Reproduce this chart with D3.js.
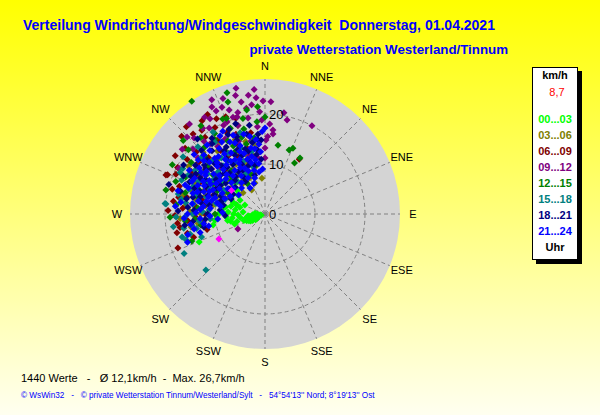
<!DOCTYPE html>
<html lang="de">
<head>
    <meta charset="UTF-8">
    <title>Windrichtung / Windgeschwindigkeit</title>
    <script src="https://d3js.org/d3.v7.min.js"></script>
    <style>
        body {
            margin: 0;
            padding: 0;
        }
        svg text {
            font-family: "Liberation Sans", Arial, sans-serif;
        }
        .spoke, .ring {
            stroke: #808080;
            stroke-dasharray: 4 3;
            fill: none;
        }
    </style>
</head>
<body>
    <svg width="600" height="415"></svg>
    <script>
        const compassLabels = ["N", "NNE", "NE", "ENE", "E", "ESE", "SE", "SSE",
            "S", "SSW", "SW", "WSW", "W", "WNW", "NW", "NNW"];
        const ringValues = [0, 10, 20];
        const timeSlots = ["00...03", "03...06", "06...09", "09...12", "12...15", "15...18", "18...21", "21...24"];
        const slotColors = ["#00ff00", "#808000", "#800000", "#800080", "#008000", "#008080", "#000080", "#0000ff"];
        const currentSpeed = "8,7";

        // [direction in degrees, speed in km/h]
        const slot0003 = [
            [250, 0.8], [262, 1.0], [245, 1.4], [258, 1.6], [270, 1.5], [253, 2.0], [264, 2.1], [248, 2.4],
            [257, 2.6], [267, 2.5], [242, 2.8], [252, 3.0], [261, 3.1], [255, 3.4], [247, 3.5], [259, 3.7],
            [250, 3.9], [264, 3.4], [274, 2.0], [238, 2.2], [256, 4.1], [244, 3.2], [253, 4.4], [249, 2.9],
            [263, 6.6], [268, 5.4], [273, 7.4], [275, 4.4], [278, 6.0], [285, 5.2], [294, 4.4], [299, 5.7],
            [305, 6.6], [290, 6.8], [258, 7.0], [266, 7.8], [280, 8.0], [255, 5.8], [270, 6.3], [262, 5.0],
            [283, 7.0], [296, 7.6], [310, 7.2], [316, 8.6], [258, 10.6], [263, 10.1], [247, 14.3], [272, 9.0],
            [305, 10.5], [325, 9.5], [260, 7.6], [252, 6.4], [276, 8.6], [288, 6.0], [300, 8.2], [268, 9.6]
        ];
        const slot0306 = [
            [334, 9.3], [355, 7.2], [331, 5.5], [314, 6.1], [340, 10.5], [345, 8.5], [325, 11.0], [318, 9.0],
            [310, 12.5], [300, 10.0], [292, 13.0], [285, 9.5], [278, 12.0], [267, 17.0], [272, 15.0], [262, 13.5],
            [305, 15.0], [320, 14.5], [335, 13.0], [348, 12.0], [352, 14.0], [338, 16.0], [328, 17.0], [315, 17.5],
            [298, 16.5], [288, 15.5], [280, 10.5], [295, 8.0], [322, 7.5], [342, 6.5], [300, 13.5], [312, 10.0],
            [330, 11.5], [287, 12.5], [275, 14.0], [265, 11.0], [308, 8.5], [345, 15.0], [326, 8.0], [302, 18.0],
            [343, 18.5], [350, 9.8], [337, 7.8], [283, 16.8], [270, 12.8], [296, 11.2], [316, 12.8], [323, 15.8],
            [306, 12.2], [318, 11.6], [328, 14.8], [342, 12.6], [350, 11.4], [290, 10.2], [282, 14.2], [298, 9.0],
            [312, 16.2], [336, 10.0], [324, 9.4], [302, 12.0], [294, 15.2], [276, 16.0], [260, 15.0], [347, 9.6]
        ];
        const slot0609 = [
            [326, 22.5], [309.5, 20.7], [292, 21.0], [269, 18.0], [261, 14.8], [261, 17.2], [291.5, 21.3], [248.7, 18.7],
            [318, 21.5], [322, 19.5], [330, 20.0], [312, 18.5], [305, 19.0], [298, 19.8], [285, 19.2], [278, 18.5],
            [274, 16.5], [265, 15.5], [256, 16.0], [252, 15.0], [300, 17.0], [315, 16.0], [325, 15.5], [335, 18.0],
            [340, 17.0], [310, 14.0], [295, 14.5], [283, 13.0], [270, 12.0], [290, 11.0], [320, 12.0], [335, 12.5],
            [345, 13.5], [350, 16.5], [32, 12.9], [305, 11.5], [282, 16.0], [288, 18.0], [262, 12.5], [255, 12.0],
            [268, 14.0], [330, 23.0], [338, 21.0], [318, 23.5], [308, 16.8], [298, 12.8], [328, 13.8], [277, 14.2],
            [303, 21.4], [294, 19.5], [281, 17.6], [272, 19.4], [313, 22.8], [323, 21.0], [333, 21.4], [343, 20.0],
            [308, 15.0], [293, 12.4], [286, 14.0], [317, 13.8], [327, 17.6], [339, 14.8], [264, 17.6], [258, 18.0],
            [279, 12.0], [299, 15.8]
        ];
        const slot0912 = [
            [333.6, 23.9], [334.6, 22.8], [341, 22.0], [324, 21.2], [314.6, 21.9], [337.6, 19.9], [348, 22.9], [355.6, 23.3],
            [341.7, 20.4], [10.6, 20.6], [13.2, 19.3], [28, 20.0], [5.4, 16.9], [5.7, 16.1], [0.8, 14.8], [0, 13.2],
            [0, 11.2], [241, 6.2], [352, 24.0], [345, 21.0], [330, 22.0], [338, 23.0], [327, 20.5], [320, 19.0],
            [343, 18.5], [350, 19.5], [357, 20.5], [3, 18.0], [355, 17.5], [348, 16.0], [340, 15.5], [332, 17.0],
            [325, 16.5], [310, 17.5], [300, 15.0], [315, 13.0], [330, 14.0], [345, 12.0], [298, 19.5], [308, 21.0],
            [320, 23.5], [355, 25.0], [3, 22.5], [2, 15.5], [352, 11.5], [350, 21.5], [346, 24.4], [335, 25.2],
            [322, 17.8], [335, 19.6], [344, 20.2], [353, 22.0], [358, 18.8], [328, 22.8], [317, 20.8], [339, 16.8],
            [349, 14.8], [312, 19.4], [305, 16.6], [359, 22.6], [347, 25.8], [340, 24.6]
        ];
        const slot1215 = [
            [327, 26.9], [342.6, 25.4], [0, 19.4], [10.7, 14.0], [23, 14.3], [20.6, 13.7], [350, 21.1], [341.7, 23.6],
            [336, 20.8], [283.6, 20.4], [249.7, 15.6], [30, 11.8], [32, 13.2], [312, 22.0], [320, 20.0], [305, 18.0],
            [295, 17.5], [285, 16.5], [275, 13.5], [265, 16.0], [290, 14.0], [300, 12.0], [310, 15.0], [325, 13.0],
            [335, 15.0], [345, 14.5], [350, 10.0], [340, 8.5], [330, 7.0], [315, 9.5], [300, 8.5], [280, 11.5],
            [270, 10.0], [260, 13.0], [318, 18.0], [328, 19.0], [338, 18.5], [346, 17.5], [355, 18.5], [290, 19.0],
            [310, 20.0], [268, 19.0], [298, 21.0], [322, 11.0], [307, 13.0], [333, 16.4], [317, 14.6], [287, 9.0],
            [302, 15.4], [314, 16.8], [326, 18.0], [334, 13.8], [343, 16.0], [352, 15.4], [296, 10.6], [284, 13.8],
            [276, 17.8], [266, 14.0], [318, 10.2], [308, 11.8], [338, 20.6], [324, 21.8], [356, 21.5], [347, 19.6]
        ];
        const slot1518 = [
            [276, 20.1], [299, 18.8], [296, 18.9], [244, 18.0], [226.5, 16.3], [254.5, 17.2], [327.6, 19.4], [350, 14.6],
            [275.8, 19.9], [262, 18.5], [268, 16.0], [258, 14.0], [280, 17.0], [288, 16.0], [292, 18.0], [285, 14.5],
            [272, 12.5], [265, 11.0], [250, 13.5], [282, 10.0], [295, 12.5], [305, 14.0], [315, 15.0], [325, 17.5],
            [310, 10.5], [300, 9.5], [330, 12.0], [340, 14.0], [335, 9.0], [320, 8.5], [345, 10.0], [290, 8.5],
            [302, 16.5], [278, 14.5], [260, 16.5], [255, 15.5], [315, 19.0], [305, 20.0], [270, 14.5], [286, 12.2],
            [312, 12.6], [338, 11.4], [322, 14.2], [296, 14.8], [264, 13.2], [348, 12.8],
            [283, 17.8], [291, 15.4], [297, 17.2], [304, 12.4], [312, 17.0], [319, 12.8], [329, 14.2], [343, 17.0],
            [268, 17.8], [261, 14.8], [274, 11.2], [288, 10.6], [252, 16.6], [278, 16.0], [298, 13.4]
        ];
        const slot1821 = [
            [287, 20.1], [355, 16.0], [354.6, 14.9], [290, 15.0], [295, 13.0], [300, 16.0], [305, 12.0], [310, 14.0],
            [315, 11.5], [320, 16.5], [325, 13.5], [330, 15.5], [335, 11.0], [340, 16.5], [345, 13.0], [350, 14.5],
            [352, 12.0], [348, 10.0], [338, 12.5], [328, 10.0], [318, 13.0], [308, 10.0], [298, 11.0], [288, 12.0],
            [280, 13.0], [275, 15.5], [270, 11.5], [264, 14.5], [258, 12.5], [285, 17.5], [295, 18.0], [305, 17.0],
            [315, 18.0], [325, 18.5], [335, 17.5], [342, 19.0], [350, 18.0], [322, 9.5], [312, 8.0], [302, 7.5],
            [292, 9.5], [330, 8.5], [345, 8.0], [282, 8.5], [275, 9.0], [268, 8.0], [300, 13.8], [313, 15.8],
            [327, 11.8], [337, 14.0], [293, 16.4], [307, 14.8], [319, 10.8], [333, 13.2], [343, 11.2], [283, 14.8],
            [272, 17.4], [262, 16.2], [356, 11.0], [318, 20.2],
            [279, 11.2], [285, 13.4], [291, 10.8], [297, 16.6], [303, 10.6], [309, 15.6], [315, 14.2], [321, 12.0],
            [327, 15.0], [333, 9.8], [339, 15.8], [343, 13.6], [347, 16.4], [353, 13.0], [357, 14.8], [311, 11.8],
            [299, 14.8], [289, 13.8], [281, 16.0], [273, 14.2], [265, 12.0], [323, 17.6], [337, 18.4], [301, 19.0],
            [318, 9.0], [341, 10.2], [329, 7.6], [305, 8.8], [294, 7.4], [286, 9.2]
        ];
        const slot2124 = [
            [278, 14.7], [0, 17.2], [358, 16.5], [353, 15.0], [356, 12.5], [350, 11.0], [346, 9.0], [342, 11.5],
            [338, 13.5], [334, 16.0], [330, 18.0], [326, 14.5], [322, 12.5], [318, 15.0], [314, 17.0], [310, 12.0],
            [306, 14.5], [302, 11.5], [298, 14.0], [294, 16.0], [290, 13.0], [286, 15.0], [282, 12.0], [278, 17.0],
            [274, 13.0], [270, 15.5], [266, 13.0], [262, 15.0], [258, 11.5], [254, 13.5], [250, 16.5], [264, 9.5],
            [272, 8.5], [280, 9.0], [288, 10.5], [296, 9.5], [304, 9.0], [312, 10.5], [320, 10.0], [328, 9.0],
            [336, 10.0], [344, 7.5], [352, 8.5], [340, 6.5], [330, 6.0], [318, 7.0], [306, 6.5], [295, 11.5],
            [305, 16.0], [315, 13.5], [325, 16.0], [335, 12.0], [345, 16.5], [300, 17.5], [285, 18.0], [275, 18.0],
            [290, 17.0], [310, 18.5], [320, 18.0], [338, 17.0], [348, 13.5], [332, 10.5], [316, 11.0], [301, 13.0],
            [284, 11.0], [268, 11.0], [258, 14.5], [276, 11.0], [292, 12.0], [308, 13.0], [324, 13.5], [340, 14.5],
            [297, 7.8], [309, 8.2], [323, 7.8], [335, 8.0], [353, 10.2], [288, 14.2], [313, 15.2], [331, 14.0],
            [281, 13.6], [287, 11.8], [293, 14.6], [299, 12.4], [303, 15.2], [307, 11.2], [311, 16.2], [317, 12.2],
            [321, 14.8], [327, 12.6], [329, 16.8], [333, 11.4], [337, 15.4], [341, 12.8], [347, 11.8], [351, 13.2],
            [355, 14.0], [289, 16.2], [297, 15.8], [283, 9.8], [291, 8.6], [299, 10.4], [313, 9.2], [325, 10.6],
            [339, 9.2], [349, 15.8], [319, 16.8], [309, 17.2], [295, 13.4], [277, 12.4], [271, 13.8], [267, 16.2],
            [261, 12.4], [255, 16.0], [303, 14.2], [317, 14.0], [331, 12.4], [345, 10.6], [357, 9.0], [333, 18.6]
        ];
        const seriesValues = [slot0003, slot0306, slot0609, slot0912, slot1215, slot1518, slot1821, slot2124];
        // two odd magenta marks in the original
        const extraMarks = [[241.5, 10.5], [305, 8.2]];

        const svg = d3.select("svg"),
            width = +svg.attr("width"),
            height = +svg.attr("height");

        const cx = 265, cy = 214;

        const r = d3.scaleLinear().domain([0, 27]).range([0, 135]);
        const angle = d3.scaleLinear().domain([0, 360]).range([0, 2 * Math.PI]);

        // background gradient
        const defs = svg.append("defs");
        const grad = defs.append("linearGradient")
            .attr("id", "bg")
            .attr("x1", 0).attr("y1", 0).attr("x2", 0).attr("y2", 1);
        grad.append("stop").attr("offset", "0%").attr("stop-color", "#ffff00");
        grad.append("stop").attr("offset", "100%").attr("stop-color", "#fffff0");

        svg.append("rect")
            .attr("width", width)
            .attr("height", height)
            .attr("fill", "url(#bg)");

        // titles
        svg.append("text")
            .attr("x", 23)
            .attr("y", 30)
            .style("font-size", "14px")
            .style("font-weight", "bold")
            .style("fill", "#0000ff")
            .attr("xml:space", "preserve")
            .text("Verteilung Windrichtung/Windgeschwindigkeit  Donnerstag, 01.04.2021");

        svg.append("text")
            .attr("x", 508)
            .attr("y", 54)
            .attr("text-anchor", "end")
            .style("font-size", "13.3px")
            .style("font-weight", "bold")
            .style("fill", "#0000ff")
            .text("private Wetterstation Westerland/Tinnum");

        const plot = svg.append("g")
            .attr("transform", `translate(${cx},${cy})`);

        plot.append("circle")
            .attr("r", r(27))
            .attr("fill", "#d4d4d4");

        plot.append("g")
            .selectAll("line")
            .data(compassLabels)
            .enter().append("line")
            .attr("class", "spoke")
            .attr("x1", 0)
            .attr("y1", 0)
            .attr("x2", (d, i) => d3.pointRadial(angle(i * 22.5), r(27))[0])
            .attr("y2", (d, i) => d3.pointRadial(angle(i * 22.5), r(27))[1]);

        plot.append("g")
            .selectAll("circle")
            .data(ringValues.filter(d => d > 0))
            .enter().append("circle")
            .attr("class", "ring")
            .attr("r", d => r(d));

        plot.append("g")
            .selectAll("text")
            .data(compassLabels)
            .enter().append("text")
            .attr("x", (d, i) => d3.pointRadial(angle(i * 22.5), 148)[0])
            .attr("y", (d, i) => d3.pointRadial(angle(i * 22.5), 148)[1])
            .attr("text-anchor", "middle")
            .attr("dy", "0.35em")
            .style("font-size", "11px")
            .style("fill", "#000")
            .text(d => d);

        // time slots, later ones drawn on top
        const diamond = "M0,-3.5L3.5,0L0,3.5L-3.5,0Z";

        seriesValues.forEach((points, i) => {
            plot.append("g")
                .selectAll("path")
                .data(points)
                .enter().append("path")
                .attr("d", diamond)
                .attr("fill", slotColors[i])
                .attr("transform", d => {
                    const p = d3.pointRadial(angle(d[0]), r(d[1]));
                    return `translate(${p[0]},${p[1]})`;
                });
        });

        plot.append("g")
            .selectAll("path")
            .data(extraMarks)
            .enter().append("path")
            .attr("d", diamond)
            .attr("fill", "#ff00ff")
            .attr("transform", d => {
                const p = d3.pointRadial(angle(d[0]), r(d[1]));
                return `translate(${p[0]},${p[1]})`;
            });

        plot.append("g")
            .selectAll("text")
            .data(ringValues)
            .enter().append("text")
            .attr("x", 4)
            .attr("y", d => -r(d))
            .attr("dy", "0.35em")
            .style("font-size", "13px")
            .style("fill", "#000")
            .text(d => d);

        // legend
        const legend = svg.append("g").attr("transform", "translate(532,67)");
        legend.append("rect")
            .attr("x", 4).attr("y", 4)
            .attr("width", 46).attr("height", 193)
            .attr("fill", "#000");
        legend.append("rect")
            .attr("x", 0.5).attr("y", 0.5)
            .attr("width", 45).attr("height", 192)
            .attr("fill", "#fff")
            .attr("stroke", "#000");

        legend.append("text")
            .attr("x", 23).attr("y", 12)
            .attr("text-anchor", "middle")
            .style("font-size", "11px")
            .style("font-weight", "bold")
            .text("km/h");
        legend.append("text")
            .attr("x", 25).attr("y", 29)
            .attr("text-anchor", "middle")
            .style("font-size", "11px")
            .style("fill", "#ff0000")
            .text(currentSpeed);

        legend.append("g")
            .selectAll("text")
            .data(timeSlots)
            .enter().append("text")
            .attr("x", 23)
            .attr("y", (d, i) => 56 + i * 16)
            .attr("text-anchor", "middle")
            .style("font-size", "11px")
            .style("font-weight", "bold")
            .style("fill", (d, i) => slotColors[i])
            .text(d => d);

        legend.append("text")
            .attr("x", 23).attr("y", 184)
            .attr("text-anchor", "middle")
            .style("font-size", "11px")
            .style("font-weight", "bold")
            .text("Uhr");

        // footer
        svg.append("text")
            .attr("x", 21)
            .attr("y", 382)
            .attr("xml:space", "preserve")
            .style("font-size", "11px")
            .style("fill", "#000")
            .text("1440 Werte   -   Ø 12,1km/h  -  Max. 26,7km/h");

        svg.append("text")
            .attr("x", 21)
            .attr("y", 398)
            .attr("xml:space", "preserve")
            .style("font-size", "8.2px")
            .style("fill", "#0000ff")
            .text("© WsWin32   -   © private Wetterstation Tinnum/Westerland/Sylt   -   54°54'13'' Nord; 8°19'13'' Ost");
    </script>
</body>
</html>
